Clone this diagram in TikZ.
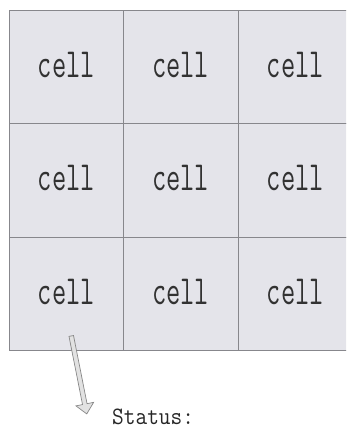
\documentclass[tikz,border=0pt]{standalone}
\usetikzlibrary{calc}
\definecolor{cellfill}{RGB}{228,228,234}
\definecolor{gridline}{RGB}{135,135,140}
\definecolor{txt}{RGB}{50,50,50}
\definecolor{arrowfill}{RGB}{226,226,226}
\definecolor{arrowline}{RGB}{135,135,135}
\begin{document}
\begin{tikzpicture}[x=1pt,y=-1pt,
  cellbox/.style={draw=gridline, fill=cellfill, line width=0.9pt,
    minimum width=114.5pt, minimum height=113.5pt, inner sep=0pt,
    text=txt, text height=25.6pt, text depth=5pt,
    font=\fontsize{27.6}{30}\selectfont\ttfamily},
  statustext/.style={anchor=base west, inner sep=0pt, text=black!85,
    font=\fontsize{22.7}{26}\selectfont\ttfamily},
  blockarrow/.style={draw=arrowline, fill=arrowfill, line width=0.7pt, line join=miter}]
\useasboundingbox (0,0) rectangle (346,429);
\clip (0,0) rectangle (346,429);
% grid cells
\node[cellbox] (c11) at (66.25,66.75)  {\scalebox{1}[1.5]{cell}};
\node[cellbox] (c12) at (180.75,66.75) {\scalebox{1}[1.5]{cell}};
\node[cellbox] (c13) at (295.25,66.75) {\scalebox{1}[1.5]{cell}};
\node[cellbox] (c21) at (66.25,180.25)  {\scalebox{1}[1.5]{cell}};
\node[cellbox] (c22) at (180.75,180.25) {\scalebox{1}[1.5]{cell}};
\node[cellbox] (c23) at (295.25,180.25) {\scalebox{1}[1.5]{cell}};
\node[cellbox] (c31) at (66.25,293.75)  {\scalebox{1}[1.5]{cell}};
\node[cellbox] (c32) at (180.75,293.75) {\scalebox{1}[1.5]{cell}};
\node[cellbox] (c33) at (295.25,293.75) {\scalebox{1}[1.5]{cell}};
% status text
\node[statustext] (status) at (112,424.5) {\scalebox{1}[1.1]{Status:}};
% arrow from the grid to the status
\coordinate (as) at ($(c31.south)+(5,-15)$);
\coordinate (ae) at ($(status.base west)+(-25,-11.5)$);
\begin{scope}[shift={(as)}, rotate=-78.76]
  \draw[blockarrow] (0pt,-2.3pt) -- (69.5pt,-2.3pt) -- (69.5pt,-9pt) -- (79.5pt,0pt)
    -- (69.5pt,9pt) -- (69.5pt,2.3pt) -- (0pt,2.3pt) -- cycle;
\end{scope}
\end{tikzpicture}
\end{document}
